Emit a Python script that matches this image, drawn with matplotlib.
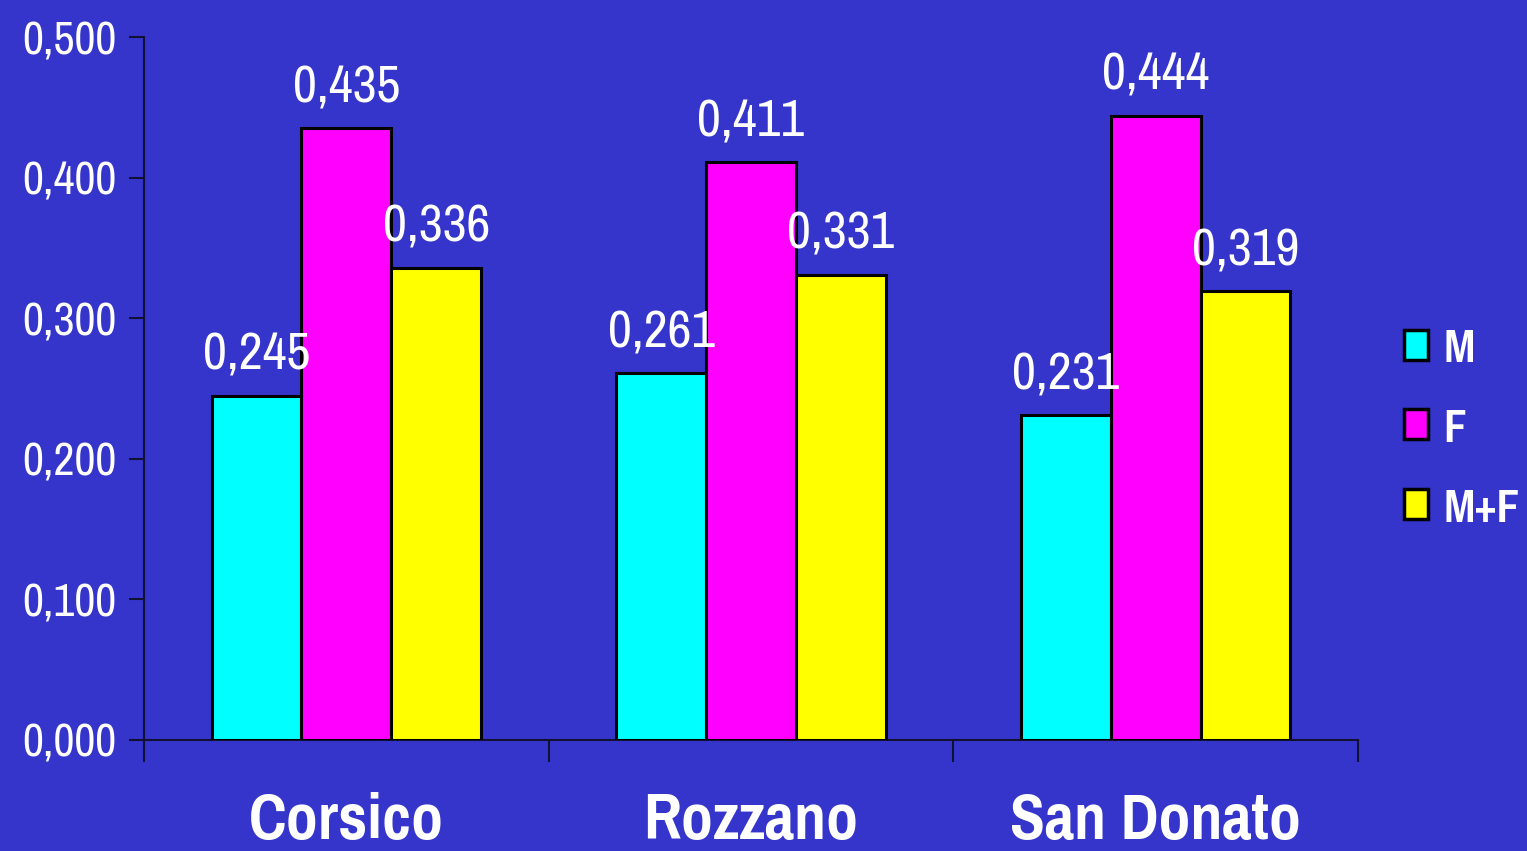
import numpy as np
import matplotlib.pyplot as plt
from matplotlib.patches import Patch
from matplotlib import font_manager

# Data
categories = ["Corsico", "Rozzano", "San Donato"]
series_names = ["M", "F", "M+F"]
values_m = [0.245, 0.261, 0.231]
values_f = [0.435, 0.411, 0.444]
values_mf = [0.336, 0.331, 0.319]
yticks = [0.0, 0.1, 0.2, 0.3, 0.4, 0.5]

colors = ["#00FFFF", "#FF00FF", "#FFFF00"]
bg = "#3535CC"

# narrow Arial-like face if one is installed
names = {f.name for f in font_manager.fontManager.ttflist}
narrow = "Liberation Sans"
for cand in ["Liberation Sans Narrow", "Pragati Narrow", "Roboto Condensed", "Archivo Narrow", "PT Sans Narrow"]:
    if cand in names:
        narrow = cand
        break

def fmt(v):
    return f"{v:.3f}".replace(".", ",")

fig = plt.figure(figsize=(15.27, 8.51), dpi=100, facecolor=bg)
ax = fig.add_axes([144 / 1527, 111 / 851, (1358 - 144) / 1527, (740 - 37) / 851])
ax.set_facecolor(bg)

x = np.arange(len(categories))
w = 0.222
for i, vals in enumerate([values_m, values_f, values_mf]):
    bars = ax.bar(x + (i - 1) * w, vals, w, color=colors[i], edgecolor="black",
                  linewidth=2.2, label=series_names[i], zorder=3)
    for b, v in zip(bars, vals):
        ax.text(b.get_x() + b.get_width() / 2, v + 0.012, fmt(v), ha="center", va="bottom",
                color="white", fontsize=41, family=narrow, zorder=4)

ax.set_xlim(-0.5, len(categories) - 0.5)
ax.set_ylim(0, 0.5)
ax.set_yticks(yticks)
ax.set_yticklabels([fmt(t) for t in yticks], color="white", fontsize=36, family=narrow)
ax.tick_params(axis="y", direction="out", length=11, width=1.5, color="#111133", pad=9)

# category separators as x ticks
ax.set_xticks(np.arange(len(categories) + 1) - 0.5)
ax.set_xticklabels([])
ax.tick_params(axis="x", direction="out", length=16, width=1.5, color="#111133")
for xi, c in zip(x, categories):
    ax.text(xi, -0.037, c, ha="center", va="top", color="white", fontsize=50,
            fontweight="bold", family=narrow, clip_on=False)

for s in ["top", "right"]:
    ax.spines[s].set_visible(False)
for s in ["left", "bottom"]:
    ax.spines[s].set_color("#111133")
    ax.spines[s].set_linewidth(1.5)

handles = [Patch(facecolor=colors[i], edgecolor="black", linewidth=2.5, label=series_names[i])
           for i in range(3)]
leg = fig.legend(handles=handles, loc="center left", bbox_to_anchor=(1379 / 1527, 1 - 429 / 851),
                 frameon=False, borderpad=0, handlelength=0.48, handleheight=0.54,
                 handletextpad=0.3, labelspacing=0.75,
                 prop={"family": narrow, "weight": "bold", "size": 36})
for t in leg.get_texts():
    t.set_color("white")

fig.savefig("out.png", dpi=100, facecolor=bg)
